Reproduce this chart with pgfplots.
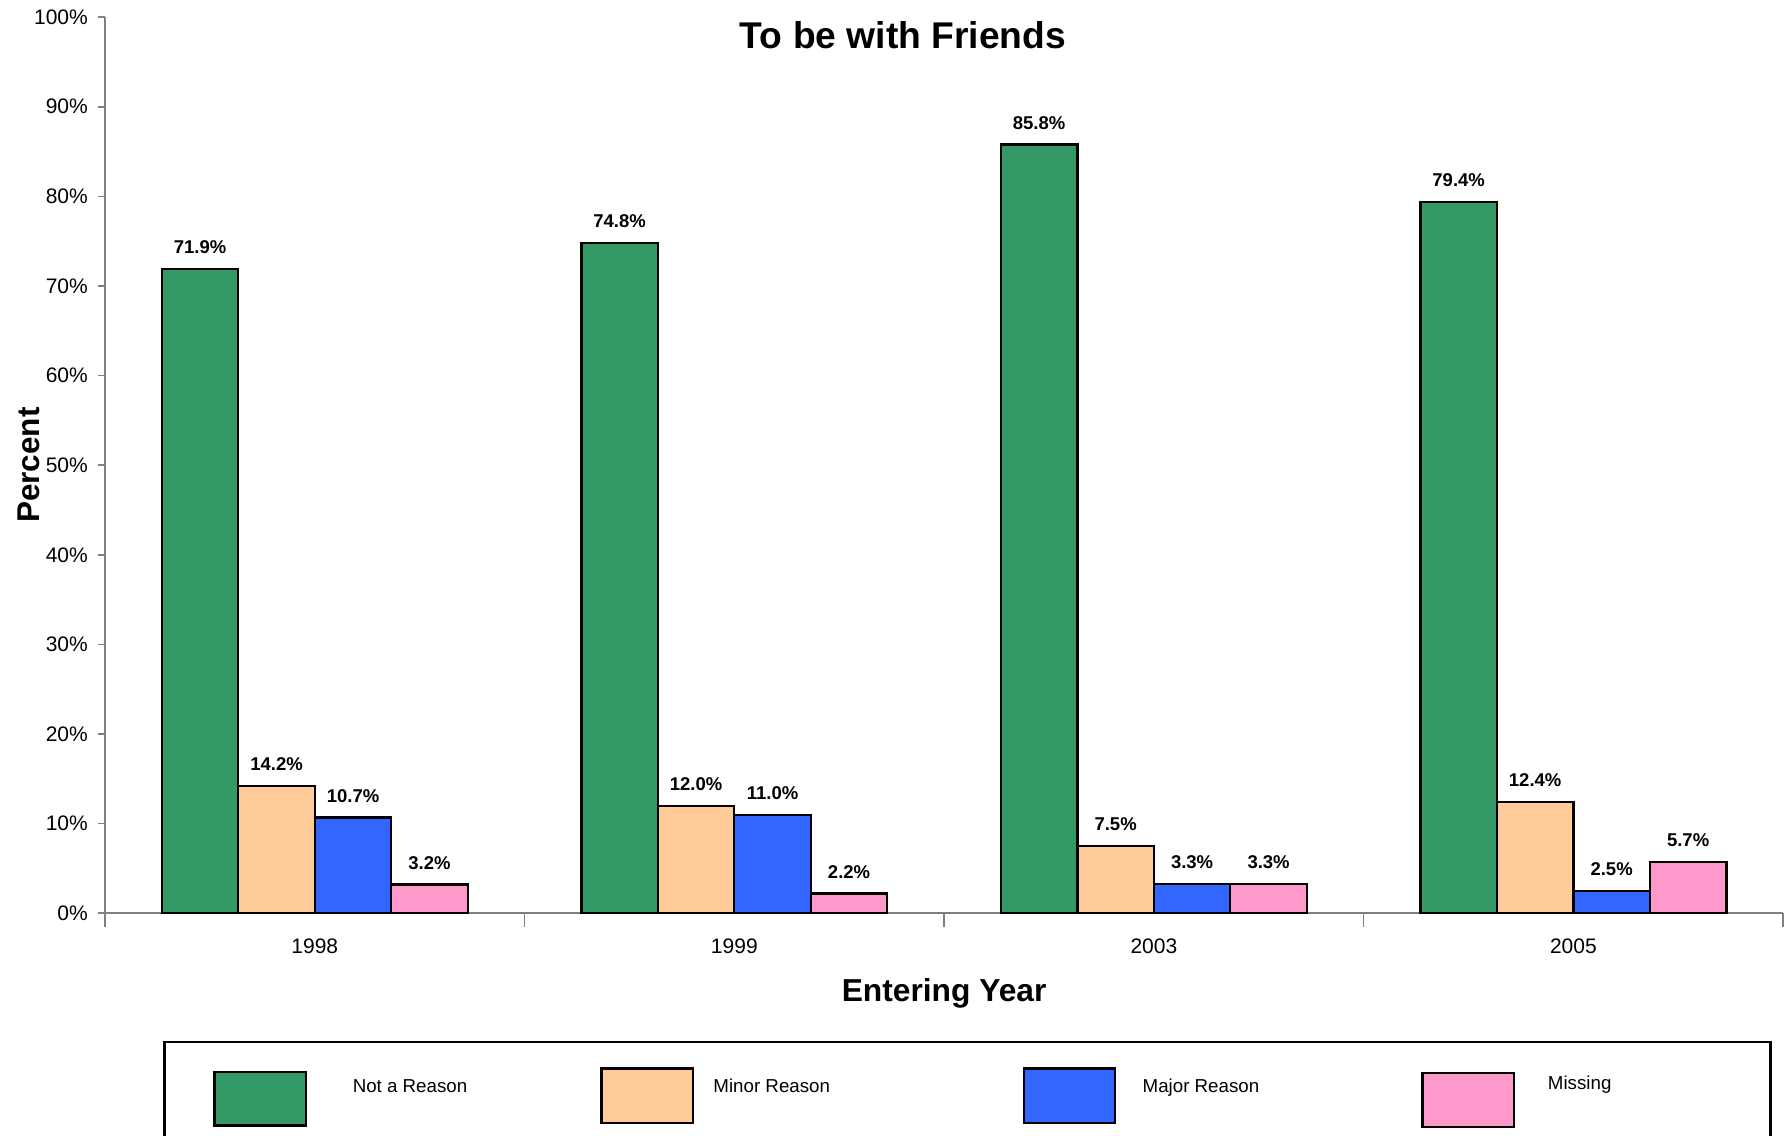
\documentclass[border=0pt]{standalone}
\usepackage{pgfplots}
\pgfplotsset{compat=1.18}
\usepackage{fontspec}
\setmainfont{Liberation Sans}
\definecolor{cNot}{HTML}{339966}
\definecolor{cMinor}{HTML}{FFCC99}
\definecolor{cMajor}{HTML}{3366FF}
\definecolor{cMiss}{HTML}{FF99CC}
\definecolor{axgray}{HTML}{808080}
\pgfplotsset{
  legimg/.style n args={4}{legend image code/.code={%
    \path[draw=none,fill=none] (0pt,0pt) rectangle (#1,0pt);
    \draw[##1,line width=1pt] (0pt,#3) rectangle (40pt,#4);}},
}
\begin{document}
\begin{tikzpicture}
\useasboundingbox (0,0) rectangle (784pt,497.5pt);
\begin{axis}[
  at={(46pt,97.5pt)}, anchor=south west,
  scale only axis, width=735pt, height=392.5pt,
  ybar=0pt, bar width=0.1823,
  xmin=-0.5, xmax=3.5, ymin=0, ymax=100,
  axis x line*=bottom, axis y line*=left,
  axis line style={axgray, line width=0.7pt, -},
  xtick={0,1,2,3}, xticklabels={1998,1999,2003,2005},
  major x tick style={draw=none},
  minor xtick={-0.5,0.5,1.5,2.5,3.5},
  minor x tick style={axgray, line width=0.7pt},
  minor tick length=6pt,
  xtick align=outside, ytick align=outside,
  ytick={0,10,...,100},
  major y tick style={axgray, line width=0.7pt},
  major tick length=3pt,
  /pgf/number format/assume math mode=true,
  yticklabel={\pgfmathprintnumber{\tick}\%},
  ticklabel style={font=\fontsize{9.2}{11}\selectfont},
  xticklabel style={yshift=-4.5pt},
  yticklabel style={xshift=-1pt},
  every axis title shift=0pt,
  title={To be with Friends},
  title style={font=\fontsize{16.3}{19}\bfseries, at={(axis description cs:0.4755,0.9796)}, anchor=center},
  xlabel={Entering Year},
  xlabel style={font=\fontsize{13.9}{16}\bfseries, at={(axis description cs:0.5,-0.0892)}, anchor=center},
  ylabel={Percent},
  ylabel style={font=\fontsize{13.8}{16}\bfseries, at={(axis description cs:-0.0456,0.5)}, anchor=center, rotate=0},
  nodes near coords={\pgfmathprintnumber[fixed,fixed zerofill,precision=1]{\pgfplotspointmeta}\%},
  nodes near coords style={font=\fontsize{8.1}{10}\bfseries, anchor=center, yshift=9.5pt},
  every axis plot/.append style={draw=black, line width=1pt},
  legend columns=4,
  legend style={at={(axis description cs:0.0347,-0.1427)}, anchor=north west,
    draw=black, line width=1pt, inner xsep=21.5pt, inner ysep=11pt,
    font=\fontsize{8.2}{10}\selectfont, cells={anchor=base west}, nodes={inner sep=0pt}},
]
\addplot[fill=cNot, legimg={60.5pt}{}{-14.5pt}{9pt}] coordinates {(0,71.9) (1,74.8) (2,85.8) (3,79.4)};
\addlegendentry{\makebox[108.5pt][l]{Not a Reason}}
\addplot[fill=cMinor, legimg={49pt}{}{-13.5pt}{10.5pt}] coordinates {(0,14.2) (1,12.0) (2,7.5) (3,12.4)};
\addlegendentry{\makebox[135.5pt][l]{Minor Reason}}
\addplot[fill=cMajor, legimg={52pt}{}{-13.5pt}{10.5pt}] coordinates {(0,10.7) (1,11.0) (2,3.3) (3,2.5)};
\addlegendentry{\makebox[122pt][l]{Major Reason}}
\addplot[fill=cMiss, legimg={55pt}{}{-15pt}{8.5pt}] coordinates {(0,3.2) (1,2.2) (2,3.3) (3,5.7)};
\addlegendentry{\makebox[76pt][l]{\raisebox{1.5pt}{Missing}}}
\end{axis}
\end{tikzpicture}
\end{document}
